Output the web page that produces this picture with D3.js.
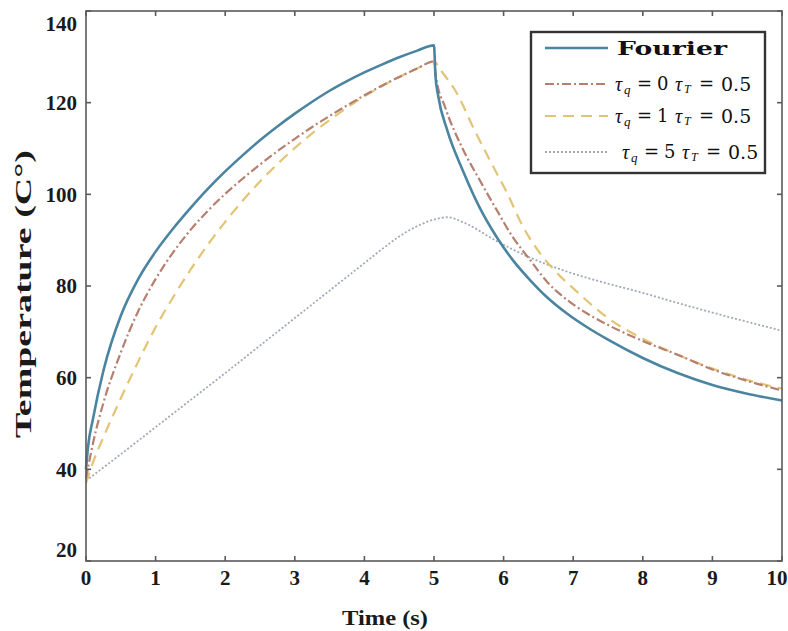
<!DOCTYPE html>
<html><head><meta charset="utf-8">
<script src="https://cdn.jsdelivr.net/npm/d3@7"></script>
<style>body{margin:0;background:#fff}svg{display:block}</style>
</head><body>
<svg id="c" width="788" height="631"></svg>
<script>
// ---- data ----
const xTicks = [0,1,2,3,4,5,6,7,8,9,10];
const yTicks = [20,40,60,80,100,120,140];

const fourierT = [0,0.03,0.1,0.25,0.5,0.75,1,1.25,1.5,1.75,2,2.25,2.5,2.75,3,3.25,3.5,3.75,4,4.25,4.5,4.75,5,5.02,5.06,5.19,5.42,5.66,5.9,6.13,6.38,6.62,6.91,7.2,7.5,8,8.5,9,9.5,10];
const fourierV = [40,45,51,61.5,73.5,81.5,87.5,92.5,97,101.2,105,108.5,111.8,114.8,117.6,120.2,122.6,124.7,126.6,128.3,129.9,131.3,132.5,126,121.5,114,105,97,90.7,85.7,81.3,77.6,74,71,68.3,64.3,61,58.4,56.5,55];

const tq0T = [0,0.05,0.12,0.25,0.5,0.75,1,1.25,1.5,1.75,2,2.25,2.5,2.75,3,3.25,3.5,3.75,4,4.25,4.5,4.75,5,5.03,5.16,5.4,5.66,5.9,6.13,6.38,6.62,6.91,7.2,7.5,8,8.5,9,9.5,10];
const tq0V = [38,42,47,54.5,65.5,74.5,81.5,87.3,92.2,96.4,100.1,103.4,106.5,109.4,112.1,114.7,117.1,119.4,121.6,123.7,125.6,127.4,129,125.5,119,110.3,103,96.6,90.7,85.7,81,77,74,71.5,68,65,61.8,59.3,57.2];

const tq1T = [0,0.1,0.25,0.5,0.75,1,1.25,1.5,1.75,2,2.25,2.5,2.75,3,3.25,3.5,3.75,4,4.25,4.5,4.75,5,5.09,5.33,5.56,5.8,6.05,6.28,6.52,6.77,7,7.5,8,8.5,9,9.5,10];
const tq1V = [37,41.5,47,55.5,63.5,71,77.5,83.5,89,94,98.6,102.8,106.6,110.1,113.3,116.2,118.9,121.4,123.6,125.6,127.4,129,127.2,122,114.7,107.5,100.3,92.9,87.2,82.8,79.5,73,68.5,65,62,59.5,57.6];

const tq5T = [0,0.5,1,1.5,2,2.5,3,3.5,4,4.25,4.5,4.75,5,5.2,5.42,5.9,6.38,6.9,7.5,8,8.5,9,9.5,10];
const tq5V = [37.5,43.3,49.2,55.1,61,67,73,79,85,88,90.8,93,94.5,95,93.9,89.8,86.2,83.2,80.5,78.5,76.3,74.2,72.2,70.2];

const seriesNames = ["Fourier","tq0","tq1","tq5"];
const tauQ = [0,1,5];
const tauT = "0.5";

// ---- drawing ----
const svg = d3.select("#c");
const x = d3.scaleLinear().domain([0,10]).range([86,782]);
const y = d3.scaleLinear().domain([20,140]).range([561,11]);
const frame = "#5a5a5a";
const font = "'Liberation Serif', 'Times New Roman', serif";
const lfont = "'DejaVu Serif', serif";

const series = [
  {t:fourierT, v:fourierV, color:"#4a84a0", w:2.6, dash:null},
  {t:tq0T, v:tq0V, color:"#b5806f", w:2.2, dash:"9,3,2,3"},
  {t:tq1T, v:tq1V, color:"#e2c475", w:2.2, dash:"11,7"},
  {t:tq5T, v:tq5V, color:"#a3a9b8", w:1.8, dash:"2,2"}
];

const line = d3.line().x(d=>x(d[0])).y(d=>y(d[1])).curve(d3.curveMonotoneX);
[3,2,1,0].forEach(i=>{
  const s = series[i];
  const pts = s.t.map((t,j)=>[t,s.v[j]]);
  svg.append("path").attr("d", line(pts)).attr("fill","none")
    .attr("stroke", s.color).attr("stroke-width", s.w)
    .attr("stroke-dasharray", s.dash).attr("stroke-linejoin","round");
});

// frame
svg.append("rect").attr("x",x(0)).attr("y",y(140)).attr("width",x(10)-x(0)).attr("height",y(20)-y(140))
  .attr("fill","none").attr("stroke",frame).attr("stroke-width",1.6);

// ticks (inward, mirrored)
const tl = 5;
xTicks.forEach(t=>{
  svg.append("line").attr("x1",x(t)).attr("x2",x(t)).attr("y1",y(20)).attr("y2",y(20)-tl).attr("stroke",frame).attr("stroke-width",1.6);
  svg.append("line").attr("x1",x(t)).attr("x2",x(t)).attr("y1",y(140)).attr("y2",y(140)+tl).attr("stroke",frame).attr("stroke-width",1.6);
  svg.append("text").attr("x",x(t)-(t===10?5:0)).attr("y",585).attr("text-anchor","middle")
    .attr("font-family",font).attr("font-weight","bold").attr("font-size",21).attr("fill","#1a1a1a").text(t);
});
yTicks.forEach(v=>{
  svg.append("line").attr("x1",x(0)).attr("x2",x(0)+tl).attr("y1",y(v)).attr("y2",y(v)).attr("stroke",frame).attr("stroke-width",1.6);
  svg.append("line").attr("x1",x(10)).attr("x2",x(10)-tl).attr("y1",y(v)).attr("y2",y(v)).attr("stroke",frame).attr("stroke-width",1.6);
  const off = v===140 ? 13 : (v===20 ? -11 : 0);
  svg.append("text").attr("x",77).attr("y",y(v)+off).attr("dy","0.35em").attr("text-anchor","end")
    .attr("font-family",font).attr("font-weight","bold").attr("font-size",21).attr("fill","#1a1a1a").text(v);
});

// axis titles
svg.append("text").attr("x",385).attr("y",625).attr("text-anchor","middle")
  .attr("font-family",font).attr("font-weight","bold").attr("font-size",22).attr("fill","#1a1a1a")
  .attr("textLength",86).attr("lengthAdjust","spacingAndGlyphs").text("Time (s)");
svg.append("text").attr("transform","translate(31,294) rotate(-90)").attr("text-anchor","middle")
  .attr("font-family",font).attr("font-weight","bold").attr("font-size",24).attr("fill","#1a1a1a")
  .attr("textLength",288).attr("lengthAdjust","spacingAndGlyphs").text("Temperature (C°)");

// legend
const lg = svg.append("g");
lg.append("rect").attr("x",531).attr("y",32).attr("width",234).attr("height",141)
  .attr("fill","#fff").attr("stroke","#333").attr("stroke-width",2.4);
const rowsY = [48,84,116,152];
seriesNames.forEach((name,i)=>{
  const s = series[i];
  const ry = rowsY[i];
  lg.append("line").attr("x1",545).attr("x2",608).attr("y1",ry).attr("y2",ry)
    .attr("stroke",s.color).attr("stroke-width",s.w).attr("stroke-dasharray",s.dash);
  if(i===0){
    lg.append("text").attr("x",617).attr("y",ry).attr("dy","0.35em")
      .attr("font-family",lfont).attr("font-weight","bold").attr("font-size",19).attr("fill","#111")
      .attr("textLength",110).attr("lengthAdjust","spacingAndGlyphs").text(name);
  } else {
    const x0 = i===3 ? 622 : 615;
    const parts = [
      {dx:0, txt:"τ", it:true, fs:20, dy:0},
      {dx:9, txt:"q", it:true, fs:13, dy:5},
      {dx:22, txt:"=", it:false, fs:18, dy:0},
      {dx:42, txt:String(tauQ[i-1]), it:false, fs:18, dy:0},
      {dx:60, txt:"τ", it:true, fs:20, dy:0},
      {dx:69, txt:"T", it:true, fs:12, dy:5},
      {dx:84, txt:"=", it:false, fs:18, dy:0},
      {dx:106, txt:tauT, it:false, fs:19, dy:0}
    ];
    parts.forEach(p=>{
      lg.append("text").attr("x",x0+p.dx).attr("y",ry+p.dy).attr("dy","0.35em")
        .attr("font-family", p.it ? font : lfont).attr("font-style",p.it?"italic":"normal")
        .attr("font-size",p.fs).attr("fill","#111").text(p.txt);
    });
  }
});
</script>
</body></html>
